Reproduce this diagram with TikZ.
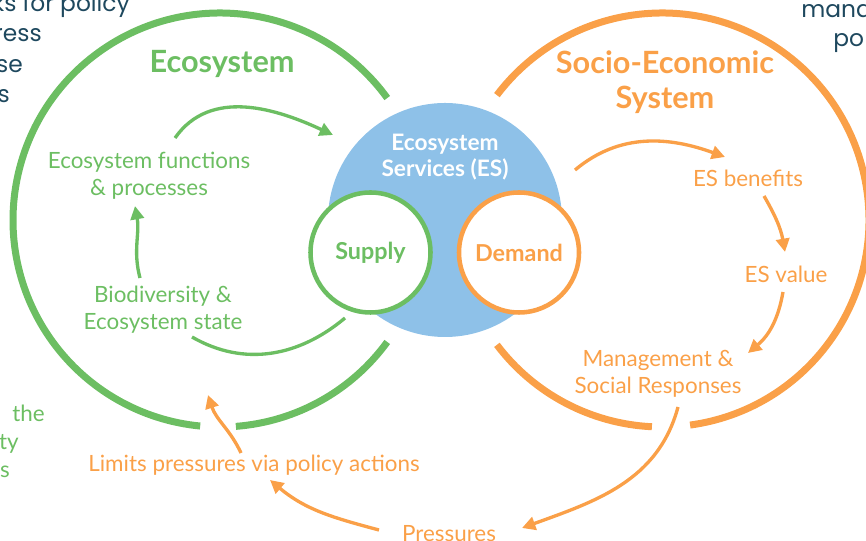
\documentclass[tikz,border=0pt]{standalone}
\usepackage{fontspec}
\setmainfont{Lato}
\newfontfamily\notefont{Poppins}
\usetikzlibrary{arrows.meta}
\definecolor{ecogreen}{RGB}{108,190,98}
\definecolor{socorange}{RGB}{250,160,72}
\definecolor{esblue}{RGB}{142,193,232}
\definecolor{noteteal}{RGB}{30,72,94}
\begin{document}
\begin{tikzpicture}[x=0.75pt,y=0.75pt,
  bigring/.style={line width=5.25pt, line cap=butt},
  flow/.style={line width=2.5pt, -{Triangle[length=10pt,width=10pt]}},
  plainflow/.style={line width=2.5pt},
  lbl/.style={font=\fontsize{16.8}{20}\selectfont, align=center, inner sep=0pt},
  heading/.style={font=\fontsize{23}{26}\selectfont\bfseries, align=center, inner sep=0pt},
  ring/.style={circle, line width=3.4pt, fill=white, minimum size=90pt, inner sep=0pt,
    font=\fontsize{17.5}{20}\selectfont\bfseries},
  note/.style={font=\notefont\fontsize{17.5}{22}\selectfont, text=noteteal, inner sep=0pt},
  sidenote/.style={font=\fontsize{16.8}{20}\selectfont, text=ecogreen, inner sep=0pt}]
\useasboundingbox (0,0) rectangle (866,541);
\begin{scope}
\clip (0,0) rectangle (866,541);

% surrounding paragraphs, cut by the frame
\node[note, anchor=base east] (n1) at (130,529) {ks for policy};
\node[note, anchor=base east] (n2) at (42,499) {ress};
\node[note, anchor=base east] (n3) at (23,468) {se};
\node[note, anchor=base east] (n4) at (10,438) {s};
\node[note, anchor=base west] (n5) at (801,523) {mana};
\node[note, anchor=base west] (n6) at (833,494) {po};
\node[sidenote, anchor=base west] (g1) at (12,119) {the};
\node[sidenote, anchor=base east] (g2) at (19,91) {ty};
\node[sidenote, anchor=base east] (g3) at (10,63) {s};

% the two systems
\coordinate (ecoc) at (220,321);
\coordinate (sesc) at (662,321);
\draw[bigring, ecogreen] (ecoc) ++(36.1:207) arc[start angle=36.1, end angle=264.5, radius=207];
\draw[bigring, ecogreen] (ecoc) ++(-85.6:207) arc[start angle=-85.6, end angle=-36.1, radius=207];
\draw[bigring, socorange] (sesc) ++(-82.2:207) arc[start angle=-82.2, end angle=142.9, radius=207];
\draw[bigring, socorange] (sesc) ++(217.1:207) arc[start angle=217.1, end angle=267.2, radius=207];

% ecosystem services
\node[circle, fill=esblue, minimum size=175.5pt, inner sep=0pt] (es) at (445,321) {};
\node[heading, font=\fontsize{17}{19.5}\selectfont\bfseries, text=white] (estext) at (445,384) {Ecosystem\\Services (ES)};
\node[ring, draw=ecogreen, text=ecogreen] (supply) at (370.5,288.5) {Supply};
\node[ring, draw=socorange, text=socorange] (demand) at (519,288.5) {Demand};

% headings
\node[heading, text=ecogreen] (ecotitle) at (222,477) {Ecosystem};
\node[heading, text=socorange] (sestitle) at (665,459) {Socio-Economic\\System};

% ecosystem side labels
\node[lbl, text=ecogreen] (functions) at (149,365) {Ecosystem functions\\\& processes};
\node[lbl, text=ecogreen] (biodiv) at (163,231) {Biodiversity \&\\Ecosystem state};

% socio-economic side labels
\node[lbl, text=socorange] (benefits) at (748,363) {ES benefits};
\node[lbl, text=socorange] (value) at (786,267) {ES value};
\node[lbl, text=socorange] (mgmt) at (658,167) {Management \&\\Social Responses};
\node[lbl, text=socorange] (limits) at (254,76) {Limits pressures via policy actions};
\node[lbl, text=socorange] (pressures) at (449,7) {Pressures};

% connector ends
\coordinate (fA) at (175,403);  \coordinate (fB) at (333,406);
\coordinate (bA) at (140,263);  \coordinate (bB) at (135,335);
\coordinate (sA) at (192,204);  \coordinate (sB) at (345,223);
\coordinate (dA) at (575,371);  \coordinate (dB) at (725,384);
\coordinate (vA) at (764,345);  \coordinate (vB) at (785,289);
\coordinate (mA) at (783,249);  \coordinate (mB) at (748,188);
\coordinate (pA) at (678,134);  \coordinate (pB) at (522,13);
\coordinate (lA) at (379,11);   \coordinate (lB) at (270,61);
\coordinate (uA) at (241,88);   \coordinate (uB) at (208,146);

% ecosystem flows
\draw[flow, ecogreen] (fA) to[out=55, in=155] (fB);
\draw[flow, ecogreen] (bA) to[out=105, in=-80] (bB);
\draw[plainflow, ecogreen] (sA) to[out=-30, in=-140] (sB);

% socio-economic flows
\draw[flow, socorange] (dA) to[out=40, in=160] (dB);
\draw[flow, socorange] (vA) to[out=-60, in=100] (vB);
\draw[flow, socorange] (mA) to[out=-100, in=40] (mB);
\draw[flow, socorange] (pA) to[out=-105, in=20] (pB);
\draw[flow, socorange] (lA) to[out=165, in=-40] (lB);
\draw[flow, socorange] (uA) to[out=115, in=-72] (uB);
\end{scope}
\end{tikzpicture}
\end{document}
